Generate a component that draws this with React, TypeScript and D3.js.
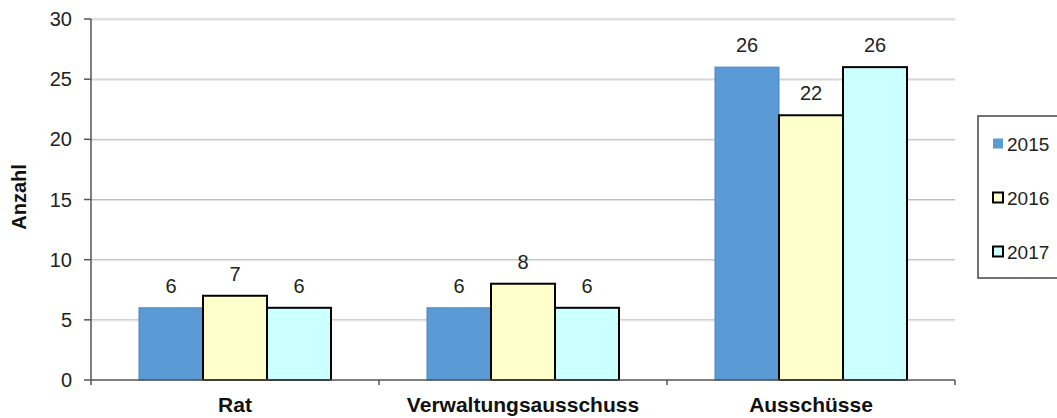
import React from 'react';
import { scaleBand, scaleLinear } from 'd3';

const categories = ['Rat', 'Verwaltungsausschuss', 'Ausschüsse'];
const years = ['2015', '2016', '2017'];
const values2015 = [6, 6, 26];
const values2016 = [7, 8, 22];
const values2017 = [6, 6, 26];
const yTicks = [0, 5, 10, 15, 20, 25, 30];

const seriesValues = [values2015, values2016, values2017];
const fills = ['#5b9bd5', '#ffffcc', '#ccffff'];
const strokes = ['#4a86c0', '#000000', '#000000'];
const strokeWidths = [1, 2, 2];

const font = '"Liberation Sans", Arial, sans-serif';

const App = () => {
    const width = 1057;
    const height = 418;
    const margin = { top: 19, right: 102, bottom: 38, left: 91 };
    const plotRight = width - margin.right;
    const plotBottom = height - margin.bottom;

    const y = scaleLinear().domain([0, 30]).range([plotBottom, margin.top]);
    const x0 = scaleBand<string>().domain(categories).range([margin.left, plotRight]).paddingInner(0).paddingOuter(0);
    const x1 = scaleBand<string>().domain(years).range([0, x0.bandwidth()]).paddingInner(0).paddingOuter(0.75);

    // legend box
    const legend = { x: 978, y: 116, w: 90, h: 162, first: 143.5, step: 54 };

    return (
        <div style={{ position: 'absolute', left: 0, top: 0 }}>
            <svg width={width} height={height} style={{ display: 'block', background: '#fff' }}>
                {/* grid */}
                {yTicks.filter(t => t > 0).map(t => (
                    <g key={'g' + t}>
                        <line x1={margin.left} x2={plotRight} y1={y(t)} y2={y(t)} stroke="#bdbdbd" strokeWidth={1} />
                        <line x1={margin.left} x2={plotRight} y1={y(t) + 1} y2={y(t) + 1} stroke="#e2e2e2" strokeWidth={1} />
                    </g>
                ))}

                {/* bars */}
                {categories.map((c, ci) => (
                    <g key={c} transform={`translate(${x0(c)},0)`}>
                        {years.map((yr, si) => {
                            const v = seriesValues[si][ci];
                            return (
                                <rect key={yr} x={x1(yr)} y={y(v)} width={x1.bandwidth()} height={plotBottom - y(v)}
                                    fill={fills[si]} stroke={strokes[si]} strokeWidth={strokeWidths[si]} />
                            );
                        })}
                        {years.map((yr, si) => {
                            const v = seriesValues[si][ci];
                            return (
                                <text key={'t' + yr} x={(x1(yr) as number) + x1.bandwidth() / 2} y={y(v) - 15}
                                    textAnchor="middle" fontFamily={font} fontSize={20} fill="#222">{v}</text>
                            );
                        })}
                    </g>
                ))}

                {/* y axis */}
                <line x1={margin.left} x2={margin.left} y1={margin.top} y2={plotBottom + 5} stroke="#555" strokeWidth={1.5} />
                {yTicks.map(t => (
                    <g key={'y' + t}>
                        <line x1={margin.left - 7} x2={margin.left} y1={y(t)} y2={y(t)} stroke="#555" strokeWidth={1.5} />
                        <text x={72} y={y(t) + 7} textAnchor="end" fontFamily={font} fontSize={20} fill="#222">{t}</text>
                    </g>
                ))}
                <text transform={`translate(26,197) rotate(-90)`} textAnchor="middle" fontFamily={font} fontSize={20}
                    fontWeight="bold" fill="#111">Anzahl</text>

                {/* x axis */}
                <line x1={margin.left} x2={plotRight} y1={plotBottom} y2={plotBottom} stroke="#555" strokeWidth={1.5} />
                {categories.map(c => (
                    <line key={'xt' + c} x1={(x0(c) as number) + x0.bandwidth()} x2={(x0(c) as number) + x0.bandwidth()}
                        y1={plotBottom} y2={plotBottom + 5} stroke="#555" strokeWidth={1.5} />
                ))}
                {categories.map(c => (
                    <text key={'xl' + c} x={(x0(c) as number) + x0.bandwidth() / 2} y={plotBottom + 32} textAnchor="middle"
                        fontFamily={font} fontSize={21} fontWeight="bold" fill="#111">{c}</text>
                ))}

                {/* legend */}
                <rect x={legend.x} y={legend.y} width={legend.w} height={legend.h} fill="#fff" stroke="#444" strokeWidth={1.5} />
                {years.map((yr, si) => {
                    const cy = legend.first + si * legend.step;
                    return (
                        <g key={'l' + yr}>
                            <rect x={993} y={cy - 5} width={10} height={10} fill={fills[si]}
                                stroke={si === 0 ? 'none' : '#000'} strokeWidth={2} />
                            <text x={1007} y={cy + 7} fontFamily={font} fontSize={19} fill="#222">{yr}</text>
                        </g>
                    );
                })}
            </svg>
        </div>
    );
};

export default App;
